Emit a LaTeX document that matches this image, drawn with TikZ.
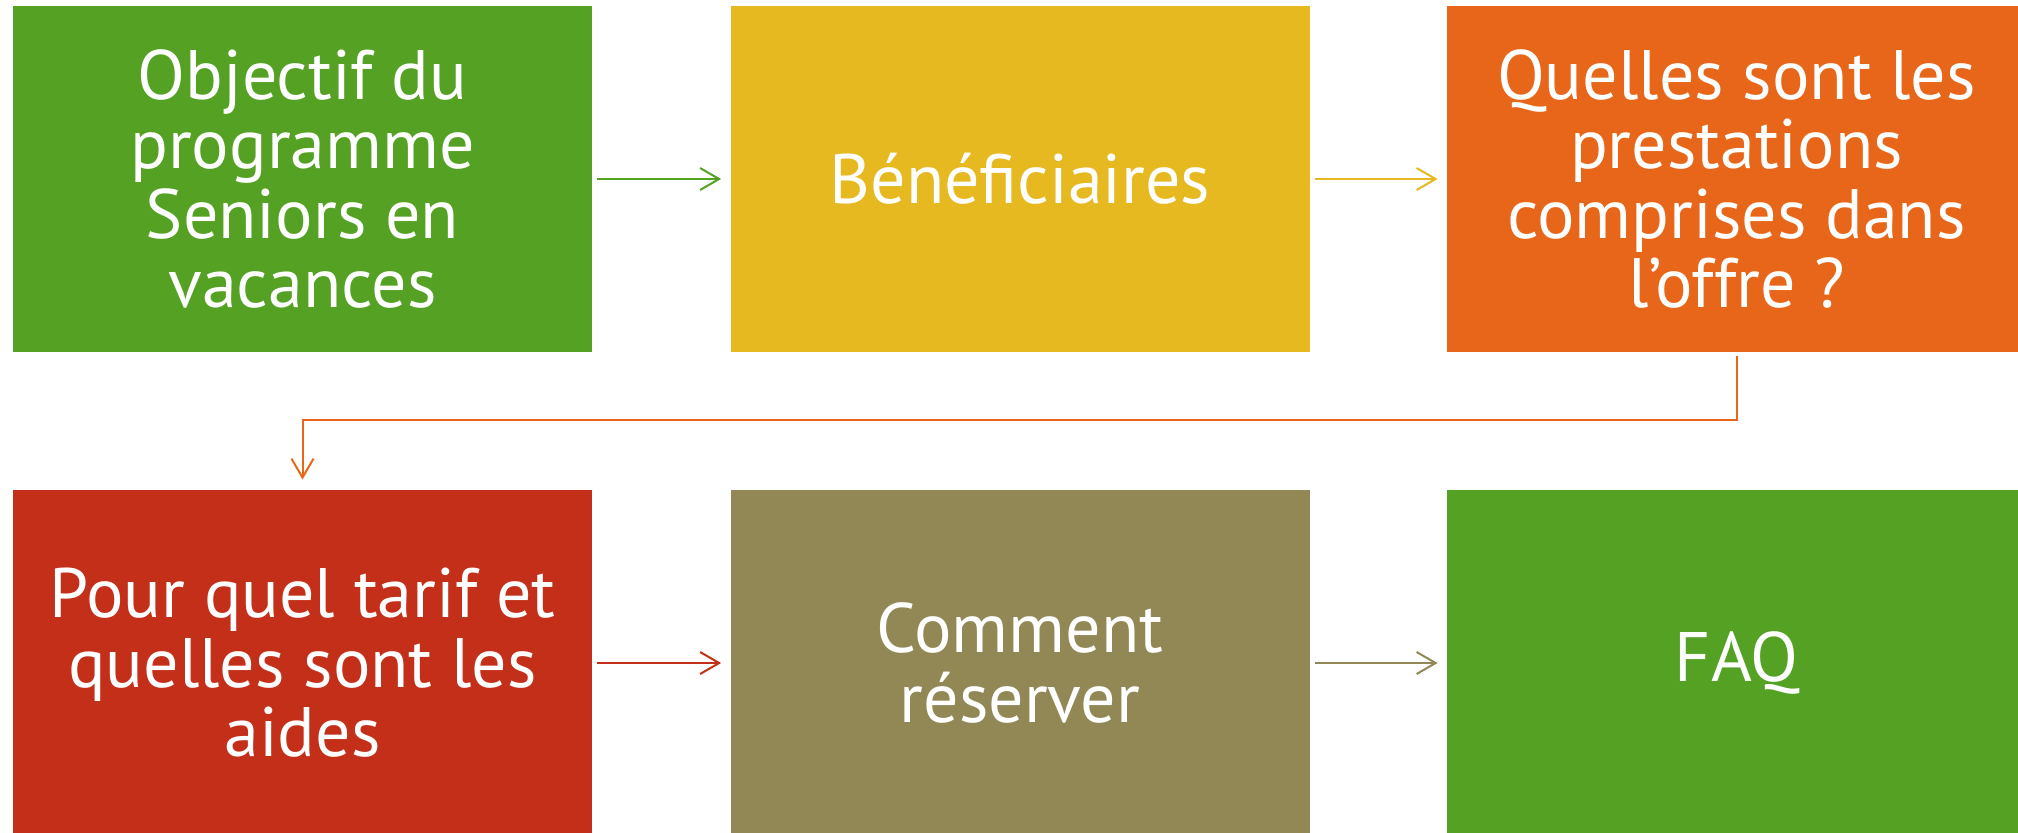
\documentclass[tikz,border=0pt]{standalone}
\usepackage{fontspec}
\setmainfont{PT Sans}
\usetikzlibrary{arrows.meta}
\definecolor{cgreen}{RGB}{85,161,35}
\definecolor{cyellow}{RGB}{229,185,31}
\definecolor{corange}{RGB}{232,102,25}
\definecolor{cred}{RGB}{195,47,25}
\definecolor{colive}{RGB}{146,136,86}
\tikzset{
  box/.style={rectangle, inner sep=0pt, minimum width=289.5pt, minimum height=173pt,
    text=white, align=center, font=\fontsize{35}{34.75}\selectfont},
  conn/.style={line width=1pt, -{Straight Barb[length=9.5pt,width=11pt,line width=1pt]}}
}
\begin{document}
\begin{tikzpicture}[x=0.5pt,y=-0.5pt]
\useasboundingbox (0,0) rectangle (2018,832);
\clip (0,0) rectangle (2018,832);
\node[box, fill=cgreen] (b1) at (302.5,179) {Objectif du\\programme\\Seniors en\\vacances};
\node[box, fill=cyellow] (b2) at (1020,179) {Bénéficiaires};
\node[box, fill=corange] (b3) at (1736.5,179) {Quelles sont les\\prestations\\comprises dans\\l’offre ?};
\node[box, fill=cred] (b4) at (302.5,663) {Pour quel tarif et\\quelles sont les\\aides};
\node[box, fill=colive] (b5) at (1020,663) {Comment\\réserver};
\node[box, fill=cgreen] (b6) at (1736.5,663) {FAQ};
\draw[conn, draw=cgreen] ([xshift=2.5pt]b1.east) -- ([xshift=-4.5pt]b2.west);
\draw[conn, draw=cyellow] ([xshift=2.5pt]b2.east) -- ([xshift=-4.5pt]b3.west);
\draw[conn, draw=corange] ([yshift=-2pt]b3.south) -- ++(0,-32pt) -| ([yshift=5pt]b4.north);
\draw[conn, draw=cred] ([xshift=2.5pt]b4.east) -- ([xshift=-4.5pt]b5.west);
\draw[conn, draw=colive] ([xshift=2.5pt]b5.east) -- ([xshift=-4.5pt]b6.west);
\end{tikzpicture}
\end{document}
